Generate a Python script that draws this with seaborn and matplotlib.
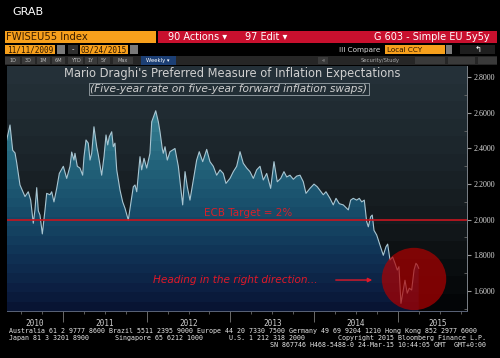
import numpy as np
import matplotlib
matplotlib.use("Agg")
import matplotlib.pyplot as plt
from matplotlib.patches import Rectangle, Ellipse, FancyArrowPatch
from matplotlib.ticker import FixedLocator, NullFormatter, FormatStrFormatter
import seaborn as sns

# ---------------- data ----------------
time_years = [
    2010.327, 2010.367, 2010.399, 2010.427, 2010.447, 2010.486, 2010.546, 2010.585,
    2010.614, 2010.645, 2010.665, 2010.686, 2010.705, 2010.725, 2010.753, 2010.785,
    2010.805, 2010.845, 2010.865, 2010.892, 2010.925, 2010.956, 2011.004, 2011.044,
    2011.084, 2011.104, 2011.131, 2011.143, 2011.171, 2011.203, 2011.235, 2011.251,
    2011.275, 2011.302, 2011.323, 2011.343, 2011.370, 2011.403, 2011.422, 2011.462,
    2011.490, 2011.514, 2011.534, 2011.553, 2011.582, 2011.601, 2011.621, 2011.642,
    2011.681, 2011.713, 2011.741, 2011.780, 2011.809, 2011.840, 2011.860, 2011.881,
    2011.920, 2011.940, 2011.968, 2012.000, 2012.039, 2012.060, 2012.108, 2012.139,
    2012.159, 2012.186, 2012.198, 2012.219, 2012.246, 2012.278, 2012.338, 2012.378,
    2012.430, 2012.458, 2012.485, 2012.517, 2012.557, 2012.597, 2012.628, 2012.669,
    2012.717, 2012.756, 2012.796, 2012.836, 2012.876, 2012.915, 2012.947, 2012.995,
    2013.035, 2013.075, 2013.115, 2013.154, 2013.195, 2013.234, 2013.274, 2013.314,
    2013.354, 2013.393, 2013.434, 2013.481, 2013.521, 2013.560, 2013.601, 2013.640,
    2013.673, 2013.712, 2013.752, 2013.792, 2013.832, 2013.871, 2013.903, 2013.951,
    2013.999, 2014.038, 2014.070, 2014.110, 2014.142, 2014.190, 2014.229, 2014.262,
    2014.301, 2014.349, 2014.409, 2014.437, 2014.468, 2014.509, 2014.540, 2014.569,
    2014.600, 2014.628, 2014.648, 2014.676, 2014.695, 2014.716, 2014.748, 2014.787,
    2014.827, 2014.859, 2014.879, 2014.907, 2014.939, 2014.967, 2014.994, 2015.014,
    2015.038, 2015.066, 2015.086, 2015.113, 2015.137, 2015.166, 2015.194, 2015.217,
    2015.233, 2015.250,
]
rate_pct = [
    2.448, 2.532, 2.390, 2.375, 2.320, 2.195, 2.130, 2.157,
    2.110, 1.980, 2.055, 2.180, 2.050, 2.026, 1.920, 2.055,
    2.148, 2.140, 2.157, 2.100, 2.176, 2.260, 2.300, 2.232,
    2.300, 2.380, 2.335, 2.373, 2.300, 2.290, 2.250, 2.354,
    2.448, 2.430, 2.335, 2.373, 2.522, 2.410, 2.364, 2.250,
    2.354, 2.476, 2.420, 2.466, 2.494, 2.410, 2.430, 2.280,
    2.167, 2.100, 2.064, 1.998, 2.090, 2.185, 2.195, 2.157,
    2.354, 2.280, 2.345, 2.290, 2.373, 2.550, 2.612, 2.550,
    2.494, 2.400, 2.373, 2.410, 2.335, 2.382, 2.400, 2.300,
    2.083, 2.270, 2.185, 2.110, 2.223, 2.335, 2.382, 2.326,
    2.395, 2.326, 2.300, 2.250, 2.280, 2.260, 2.204, 2.232,
    2.270, 2.300, 2.382, 2.317, 2.290, 2.270, 2.232, 2.280,
    2.300, 2.223, 2.260, 2.176, 2.326, 2.213, 2.232, 2.270,
    2.240, 2.250, 2.227, 2.245, 2.250, 2.213, 2.148, 2.176,
    2.200, 2.185, 2.165, 2.140, 2.157, 2.120, 2.083, 2.120,
    2.090, 2.083, 2.055, 2.110, 2.120, 2.110, 2.120, 2.100,
    2.110, 1.990, 1.960, 2.017, 2.026, 1.940, 1.914, 1.858,
    1.800, 1.848, 1.863, 1.774, 1.790, 1.755, 1.717, 1.736,
    1.530, 1.605, 1.660, 1.587, 1.615, 1.605, 1.717, 1.755,
    1.746, 1.727,
]
ecb_target = 2.0
year_labels = ["2010", "2011", "2012", "2013", "2014", "2015"]
year_label_pos = [2010.665, 2011.5, 2012.5, 2013.5, 2014.5, 2015.48]
year_bounds = [2011, 2012, 2013, 2014, 2015]
y_ticks = [1.6, 1.8, 2.0, 2.2, 2.4, 2.6, 2.8]

title = "Mario Draghi's Preferred Measure of Inflation Expectations"
subtitle = "(Five-year rate on five-year forward inflation swaps)"
target_label = "ECB Target = 2%"
note_label = "Heading in the right direction..."

XMIN, XMAX = 2010.331, 2015.827
YMIN, YMAX = 1.487, 2.8635

W, H = 500, 358


def fx(x):
    return x / W


def fy(y):
    return 1 - y / H


def banded(stops, n):
    vals = np.array([s[0] for s in stops])
    cols = np.array([s[1] for s in stops], dtype=float) / 255.0
    centers = YMIN + (np.arange(n) + 0.5) * (YMAX - YMIN) / n
    img = np.zeros((n, 1, 3))
    for c in range(3):
        img[:, 0, c] = np.interp(centers, vals, cols[:, c])
    return img


fig = plt.figure(figsize=(5, 3.58), dpi=100, facecolor="black")


def rect(x0, y0, x1, y1, color, **kw):
    fig.add_artist(Rectangle((fx(x0), fy(y1)), fx(x1 - x0), (y1 - y0) / H,
                             transform=fig.transFigure, facecolor=color,
                             edgecolor=kw.pop("ec", "none"), lw=kw.pop("lw", 0), **kw))


def ftext(x, y, s, **kw):
    fig.text(fx(x), fy(y), s, **kw)


# ---------------- header ----------------
ftext(12, 12, "GRAB", color="white", fontsize=8, va="center", ha="left")
orange = "#f7a01c"
rect(5, 31, 156, 43, orange)
ftext(6, 37.5, "FWISEU55 Index", color="#3a1e00", fontsize=7.2, va="center")
rect(158, 31, 497, 43, "#c8102e")
ftext(168, 37.5, "90 Actions \u25be", color="white", fontsize=7, va="center")
ftext(245, 37.5, "97 Edit \u25be", color="white", fontsize=7, va="center")
ftext(490, 37.5, "G 603 - Simple EU 5y5y", color="white", fontsize=7, va="center", ha="right")

rect(5, 45, 55, 54, orange)
ftext(53, 49.7, "11/11/2009", color="#2a1500", fontsize=5.6, va="center", ha="right",
      family="DejaVu Sans Mono")
rect(57, 45, 65, 54, "#7a7a7a")
rect(68, 45, 78, 54, "#303030")
ftext(73, 49.5, "-", color="white", fontsize=5, va="center", ha="center")
rect(80, 45, 128, 54, orange)
ftext(127, 49.7, "03/24/2015", color="#2a1500", fontsize=5.6, va="center", ha="right",
      family="DejaVu Sans Mono")
rect(130, 45, 138, 54, "#7a7a7a")
ftext(380, 49.7, "III Compare", color="#d8d8d8", fontsize=5.2, va="center", ha="right")
rect(385, 45, 445, 54, orange)
ftext(387, 49.7, "Local CCY", color="#2a1500", fontsize=5.2, va="center")
rect(446, 45, 452, 54, "#7a7a7a")
rect(460, 45, 495, 54, "#1e1e1e")
ftext(478, 49.5, "\u21b0", color="white", fontsize=6, va="center", ha="center")

rect(5, 56, 497, 65, "#262626")
buttons = [("1D", 5, 20), ("3D", 22, 35), ("1M", 37, 50), ("6M", 52, 65), ("YTD", 68, 83),
           ("1Y", 85, 97), ("5Y", 98, 110), ("Max", 113, 133)]
for lab, a, b in buttons:
    rect(a, 57, b, 64, "#3a3a3a")
    ftext((a + b) / 2, 60.5, lab, color="#bbbbbb", fontsize=3.6, va="center", ha="center")
rect(141, 56, 176, 65, "#1c3f74")
ftext(158, 60.5, "Weekly \u25be", color="white", fontsize=3.8, va="center", ha="center")
rect(318, 57, 328, 64, "#3a3a3a")
ftext(323, 60.5, "\u00ab", color="#bbbbbb", fontsize=4, va="center", ha="center")
ftext(380, 60.5, "Security/Study", color="#aaaaaa", fontsize=3.8, va="center", ha="center")
rect(415, 57, 445, 64, "#3a3a3a")
rect(448, 57, 475, 64, "#3a3a3a")
rect(478, 57, 497, 64, "#3a3a3a")

# ---------------- chart ----------------
ax = fig.add_axes([fx(7), fy(311), fx(460), 245 / H])
ax.set_facecolor("black")

bg_stops = [(1.487, (2, 4, 5)), (1.8, (12, 16, 18)), (2.0, (20, 26, 29)),
            (2.4, (28, 38, 44)), (2.8635, (38, 50, 58))]
ax.imshow(banded(bg_stops, 14), extent=[XMIN, XMAX, YMIN, YMAX], origin="lower",
          aspect="auto", zorder=0, interpolation="nearest")

fill_stops = [(1.487, (8, 18, 48)), (1.6, (12, 30, 64)), (1.8, (16, 50, 85)),
              (2.0, (22, 72, 102)), (2.3, (34, 98, 122)), (2.6, (56, 130, 148)),
              (2.8635, (70, 146, 162))]
poly = ax.fill_between(time_years, rate_pct, YMIN, color="none", lw=0)
im = ax.imshow(banded(fill_stops, 26), extent=[XMIN, XMAX, YMIN, YMAX], origin="lower",
               aspect="auto", zorder=1, interpolation="nearest")
im.set_clip_path(poly.get_paths()[0], transform=ax.transData)

sns.lineplot(x=time_years, y=rate_pct, ax=ax, color="#a9c6d2", lw=0.8, zorder=3)

ax.axhline(ecb_target, color="#c8141e", lw=1.2, zorder=4)
ax.text(2013.21, 2.04, target_label, color="#d8202a", fontsize=7.5, ha="center",
        va="center", zorder=5)
ax.text(2012.07, 1.661, note_label, color="#e01828", fontsize=7.6, style="italic",
        ha="left", va="center", zorder=5)
ax.add_patch(FancyArrowPatch((2014.226, 1.661), (2014.728, 1.661), arrowstyle="-|>",
                             mutation_scale=6, color="#e01828", lw=1.0, zorder=5))
ax.add_patch(Ellipse((2015.194, 1.667), 0.77, 0.35, facecolor="#b00000", alpha=0.7,
                     edgecolor="none", zorder=4))

ax.text(0.4895, 0.97, title, transform=ax.transAxes, color="#cfcfcf", fontsize=8.3,
        ha="center", va="center", zorder=6)
ax.text(0.482, 0.907, subtitle, transform=ax.transAxes, color="#d0d0d0", fontsize=7.7,
        style="italic", ha="center", va="center", zorder=6,
        bbox=dict(boxstyle="square,pad=0.12", facecolor="none", edgecolor="#9aa4aa", lw=0.6))

ax.set_xlim(XMIN, XMAX)
ax.set_ylim(YMIN, YMAX)

for s in ["left", "top"]:
    ax.spines[s].set_visible(False)
ax.spines["bottom"].set_color("#5a6478")
ax.spines["right"].set_color("#7a8088")
ax.spines["bottom"].set_linewidth(0.7)
ax.spines["right"].set_linewidth(0.7)

ax.yaxis.tick_right()
ax.yaxis.set_major_locator(FixedLocator(y_ticks))
ax.yaxis.set_minor_locator(FixedLocator(np.arange(1.5, 2.86, 0.1)))
ax.yaxis.set_major_formatter(FormatStrFormatter("%.4f"))
ax.tick_params(axis="y", which="major", length=3, color="#9a9a9a", labelcolor="#d8d8d8",
               labelsize=5.8, pad=1.5)
ax.tick_params(axis="y", which="minor", length=2, color="#6a6a6a", direction="in")
for lab in ax.get_yticklabels():
    lab.set_family("Liberation Serif")

ax.xaxis.set_major_locator(FixedLocator(year_bounds))
ax.xaxis.set_minor_locator(FixedLocator(np.arange(2010.5, 2015.9, 0.25)))
ax.xaxis.set_major_formatter(NullFormatter())
ax.tick_params(axis="x", which="major", length=8, color="#6a6a6a", width=0.7)
ax.tick_params(axis="x", which="minor", length=2.5, color="#6a6a6a", width=0.6)
ax.set_xlabel("")
ax.set_ylabel("")
for pos, lab in zip(year_label_pos, year_labels):
    ax.text(pos, -0.052, lab, transform=ax.get_xaxis_transform(), color="#d0d0d0",
            fontsize=5.6, ha="center", va="center", family="DejaVu Sans Mono")

# ---------------- footer ----------------
mono = dict(color="#e6e6e6", fontsize=4.8, family="DejaVu Sans Mono", va="center")
foot1 = ("Australia 61 2 9777 8600 Brazil 5511 2395 9000 Europe 44 20 7330 7500 "
         "Germany 49 69 9204 1210 Hong Kong 852 2977 6000")
ftext(9, 331, foot1, **mono)
ftext(9, 338, "Japan 81 3 3201 8900", **mono)
ftext(115, 338, "Singapore 65 6212 1000", **mono)
ftext(229, 338, "U.S. 1 212 318 2000", **mono)
ftext(486, 338, "Copyright 2015 Bloomberg Finance L.P.", ha="right", **mono)
ftext(486, 345, "SN 867746 H468-5488-0 24-Mar-15 10:44:05 GMT  GMT+0:00", ha="right", **mono)

fig.savefig("out.png", dpi=100, facecolor="black")
